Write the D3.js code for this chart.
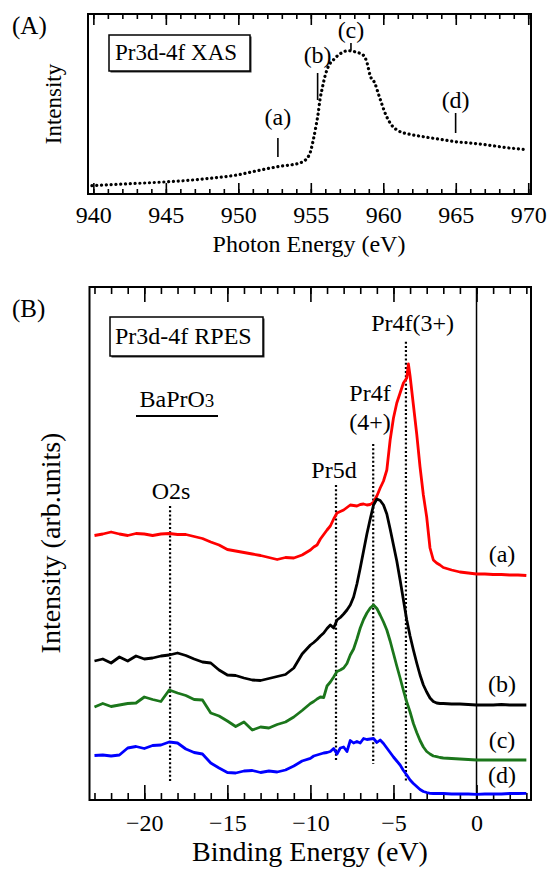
<!DOCTYPE html>
<html>
<head>
<meta charset="utf-8">
<script src="https://cdn.jsdelivr.net/npm/d3@7"></script>
<style>
  html, body { margin: 0; padding: 0; background: #fff; }
  svg { display: block; }
  text { font-family: "Liberation Serif", "Times New Roman", serif; fill: #000; }
</style>
</head>
<body>
<script>
// ---- panel A: Pr3d-4f XAS (photon energy in eV, intensity arb.)
const xasEnergy = [939.9, 941.65, 943.95, 946.25, 948.1, 949.9, 951.3, 952.7, 954.3, 954.89,
  955.17, 955.35, 955.51, 955.63, 955.79, 955.97, 956.2, 956.55, 957.0, 957.58,
  958.16, 958.61, 958.89, 959.08, 959.42, 959.65, 959.88, 960.18, 960.57, 961.03,
  961.83, 962.75, 963.9, 964.99, 966.2, 967.35, 968.5, 969.65];
const xasIntensity = [8.3, 9.7, 11.3, 13.3, 15.7, 19, 23.3, 27.3, 31.3, 39,
  54, 67.3, 80.7, 94, 105.7, 117.3, 127.3, 134, 140, 143.3,
  141.7, 139, 130.7, 119, 110.7, 100.7, 90.7, 79, 69, 63.3,
  59.7, 57.3, 54.7, 52.3, 50.7, 48.7, 46.3, 44.7];
const xasTicks = [940, 945, 950, 955, 960, 965, 970];
// photon energies used for the RPES spectra
const xasMarks = ['(a)', '(b)', '(c)', '(d)'];
const xasMarkEnergy = [952.73, 955.47, 957.77, 964.99];

// ---- panel B: Pr3d-4f RPES of BaPrO3 (binding energy in eV)
const bindingEnergy = [-23, -22.5, -22, -21.5, -21, -20.5, -20, -19.5, -19, -18.5,
  -18, -17.5, -17, -16.5, -16, -15.5, -15, -14.5, -14, -13.5,
  -13, -12.5, -12, -11.5, -11, -10.5,
  -10, -9.8, -9.6, -9.4, -9.2, -9, -8.8, -8.6, -8.4, -8.2,
  -8, -7.8, -7.6, -7.4, -7.2, -7, -6.8, -6.6, -6.4, -6.2,
  -6, -5.8, -5.6, -5.4, -5.2, -5, -4.8, -4.6, -4.4, -4.2,
  -4.1, -4, -3.8, -3.6, -3.4, -3.2, -3, -2.8, -2.6, -2.4,
  -2.2, -2, -1.5, -1, -0.5, 0, 0.5, 1, 1.5, 2, 2.5, 3];
const rpesA = [264.5, 266, 268, 266, 264.5, 266.5, 266, 264.5, 266, 266.5,
  265.5, 265.5, 263.5, 261.5, 258, 255, 250.5, 249, 247.5, 246,
  244.5, 242.5, 240.5, 242.5, 242, 245,
  250, 253, 255, 261, 265.5, 270, 274, 281, 287, 288.5,
  290, 292.5, 295, 294.5, 294, 295.5, 296, 295, 295.5, 298,
  304, 312, 319, 330, 360, 382, 397, 407, 417, 422,
  436, 424, 395, 366, 333, 305, 283, 252, 240, 237,
  235, 232.5, 230, 228, 227, 226, 226, 225.5, 225.5, 225, 225, 224.5];
const rpesB = [139, 141, 137, 143, 139, 144, 141, 142, 144, 145,
  147, 144.5, 141, 138, 137, 130, 125, 124.5, 122, 120,
  119.5, 121.5, 123.5, 125.5, 132, 146,
  155, 157.5, 160.5, 164, 167, 171.5, 175, 172, 180, 182.5,
  186, 190, 195, 203, 216, 232, 249, 266, 281, 295,
  301, 299.5, 295, 286, 271, 255, 239, 220, 200, 180,
  172, 164, 150, 137, 125, 115, 108, 102, 98.5, 97,
  96.5, 96.5, 96, 96, 95.5, 95, 95, 95, 95.5, 95, 95, 95];
const rpesC = [93, 96.5, 93.5, 95, 96.5, 97, 103, 100.5, 98.5, 110,
  107, 104.5, 100.5, 100, 87, 84, 79, 73.5, 78, 70,
  73, 72, 75.5, 78, 83, 89.5,
  96.5, 98.5, 101, 103, 102.5, 114, 118, 123, 128.5, 130,
  132, 136.5, 145, 151, 161, 172, 180.5, 187, 192, 195,
  191.5, 185, 178, 170, 159, 146.5, 134, 122, 109.5, 98,
  93, 88, 76.5, 67.5, 59.5, 53, 48.5, 46, 44, 43.3,
  42.5, 42, 41.5, 41, 40.5, 40, 40, 40, 40, 40, 40, 40];
const rpesD = [44.5, 45, 44, 45, 52, 53.5, 51.5, 54.5, 55, 58,
  57, 51, 47.5, 46, 37, 32, 27.5, 27, 29, 29.5,
  27.5, 29, 28, 30, 34, 39,
  41.7, 44, 45, 46, 47, 47.5, 48.5, 51.5, 46, 52,
  53, 48.5, 59.5, 57, 58.5, 57, 61.5, 60.5, 61, 61.5,
  57.5, 60, 56.5, 52, 47.5, 43, 39, 35, 29.5, 25,
  22.5, 20, 16.5, 13.5, 10.5, 8.5, 7.5, 6.7, 6.5, 6.5,
  6.5, 6.5, 6, 6, 6, 5.7, 6, 6, 6, 6.5, 6.5, 6.7];
const seriesNames = ['(a)', '(b)', '(c)', '(d)'];
const seriesColors = ['#ff0000', '#000000', '#1b761b', '#0000ff'];
const bTicks = [-20, -15, -10, -5, 0];

// assignment lines: energy, label lines
const peakNames = [['O2s'], ['Pr5d'], ['Pr4f', '(4+)'], ['Pr4f(3+)']];
const peakEnergy = [-18.45, -8.46, -6.22, -4.25];

const W = 547, H = 869;
const FONT = '"Liberation Serif", "Times New Roman", serif';

const svg = d3.select('body').append('svg')
  .attr('width', W).attr('height', H);
svg.append('rect').attr('width', W).attr('height', H).attr('fill', '#fff');

// helper: frame with inward major/minor ticks top & bottom
function drawFrame(g, x, box, majors, minors, majorLen, minorLen, labelPad, labelSize) {
  const bottom = g.append('g').attr('transform', 'translate(0,' + box.bottom + ')');
  bottom.call(d3.axisBottom(x).tickValues(minors).tickSizeInner(-minorLen).tickSizeOuter(0).tickFormat(''));
  bottom.append('g').call(d3.axisBottom(x).tickValues(majors).tickSizeInner(-majorLen).tickSizeOuter(0)
    .tickPadding(labelPad).tickFormat(d3.format('d')));
  const top = g.append('g').attr('transform', 'translate(0,' + box.top + ')');
  top.call(d3.axisTop(x).tickValues(minors).tickSizeInner(-minorLen).tickSizeOuter(0).tickFormat(''));
  top.append('g').call(d3.axisTop(x).tickValues(majors).tickSizeInner(-majorLen).tickSizeOuter(0).tickFormat(''));

  g.selectAll('.domain').remove();
  g.selectAll('.tick line').attr('stroke', '#000').attr('stroke-width', 1.6);
  g.selectAll('.tick text').attr('font-family', FONT).attr('font-size', labelSize).attr('fill', '#000');

  g.append('rect')
    .attr('x', box.left).attr('y', box.top)
    .attr('width', box.right - box.left).attr('height', box.bottom - box.top)
    .attr('fill', 'none').attr('stroke', '#000').attr('stroke-width', 2);
}

function titleBox(g, x0, y0, w, h, label, tx, ty, size) {
  g.append('rect').attr('x', x0 + 1.5).attr('y', y0 + 1.5).attr('width', w).attr('height', h)
    .attr('fill', '#333');
  g.append('rect').attr('x', x0).attr('y', y0).attr('width', w).attr('height', h)
    .attr('fill', '#fff').attr('stroke', '#000').attr('stroke-width', 1.5);
  g.append('text').attr('x', tx).attr('y', ty).attr('font-size', size).text(label);
}

// ================= Panel A =================
const boxA = {left: 88, right: 531, top: 14, bottom: 194};
const xA = d3.scaleLinear().domain([939.63, 970.19]).range([boxA.left, boxA.right]);
const yA = d3.scaleLinear().domain([0, 180]).range([boxA.bottom, boxA.top]);

const gA = svg.append('g');
drawFrame(gA, xA, boxA, xasTicks, d3.range(940, 971, 1), 11, 5, 12, 24);

gA.append('path')
  .datum(xasEnergy.map((e, i) => [e, xasIntensity[i]]))
  .attr('fill', 'none')
  .attr('stroke', '#000')
  .attr('stroke-width', 3.2)
  .attr('stroke-linecap', 'round')
  .attr('stroke-dasharray', '0.1,4.7')
  .attr('d', d3.line().x(d => xA(d[0])).y(d => yA(d[1])).curve(d3.curveMonotoneX));

// marker ticks + labels for the excitation energies
const markTop = [56, 121, 151, 81];
const markBot = [37, 94, 143.5, 61];
const markLabelY = [125, 63, 38, 108];
xasMarks.forEach((m, i) => {
  const xx = xA(xasMarkEnergy[i]);
  gA.append('line').attr('x1', xx).attr('x2', xx)
    .attr('y1', yA(markTop[i])).attr('y2', yA(markBot[i]))
    .attr('stroke', '#000').attr('stroke-width', 1.6);
  gA.append('text').attr('x', xx).attr('y', markLabelY[i])
    .attr('text-anchor', 'middle').attr('font-size', 24).text(m);
});

titleBox(gA, 109, 35, 141, 36, 'Pr3d-4f XAS', 115, 60, 23);

svg.append('text').attr('x', 12).attr('y', 34).attr('font-size', 25).text('(A)');
svg.append('text').attr('transform', 'translate(61,104) rotate(-90)')
  .attr('text-anchor', 'middle').attr('font-size', 23).text('Intensity');
svg.append('text').attr('x', 309).attr('y', 252).attr('text-anchor', 'middle')
  .attr('font-size', 24).text('Photon Energy (eV)');

// ================= Panel B =================
const boxB = {left: 89.5, right: 531, top: 287, bottom: 800};
const xB = d3.scaleLinear().domain([-23.3, 3.28]).range([boxB.left, boxB.right]);
const yB = d3.scaleLinear().domain([0, 513]).range([boxB.bottom, boxB.top]);

const gB = svg.append('g');
drawFrame(gB, xB, boxB, bTicks, d3.range(-23, 4, 1), 15, 7, 14, 24);

// Fermi level
gB.append('line').attr('x1', xB(0)).attr('x2', xB(0))
  .attr('y1', boxB.top).attr('y2', boxB.bottom)
  .attr('stroke', '#000').attr('stroke-width', 1.5);

// dotted assignment lines
const peakTop = [294, 315, 356, 458.3];
const peakBot = [18, 38, 36, 18];
peakEnergy.forEach((e, i) => {
  gB.append('line').attr('x1', xB(e)).attr('x2', xB(e))
    .attr('y1', yB(peakTop[i])).attr('y2', yB(peakBot[i]))
    .attr('stroke', '#000').attr('stroke-width', 2.2)
    .attr('stroke-dasharray', '2,2.2');
});

// spectra
const spectra = [rpesA, rpesB, rpesC, rpesD];
const lineB = d3.line().x(d => xB(d[0])).y(d => yB(d[1]));
spectra.forEach((s, i) => {
  gB.append('path')
    .datum(bindingEnergy.map((e, j) => [e, s[j]]))
    .attr('fill', 'none')
    .attr('stroke', seriesColors[i])
    .attr('stroke-width', 2.8)
    .attr('stroke-linejoin', 'round')
    .attr('d', lineB);
});

// series labels on the right
const seriesLabelY = [562, 692, 748, 783];
seriesNames.forEach((n, i) => {
  gB.append('text').attr('x', 502).attr('y', seriesLabelY[i])
    .attr('text-anchor', 'middle').attr('font-size', 24).text(n);
});

// peak labels
const peakLabelX = [171, 334, 370, 412.6];
const peakLabelY = [[499.3], [477.5], [401, 430], [330.7]];
peakNames.forEach((lines, i) => {
  lines.forEach((t, k) => {
    gB.append('text').attr('x', peakLabelX[i]).attr('y', peakLabelY[i][k])
      .attr('text-anchor', 'middle').attr('font-size', 24).text(t);
  });
});

titleBox(gB, 110, 317, 153, 39, 'Pr3d-4f RPES', 115, 343.5, 24);

// sample name
const sample = gB.append('text').attr('x', 139.5).attr('y', 406.7).attr('font-size', 24);
sample.append('tspan').text('BaPrO');
sample.append('tspan').attr('font-size', 19).text('3');
gB.append('line').attr('x1', 136).attr('x2', 218).attr('y1', 416).attr('y2', 416)
  .attr('stroke', '#000').attr('stroke-width', 2);

svg.append('text').attr('x', 12).attr('y', 317).attr('font-size', 25).text('(B)');
svg.append('text').attr('transform', 'translate(60,543) rotate(-90)')
  .attr('text-anchor', 'middle').attr('font-size', 28).text('Intensity (arb.units)');
svg.append('text').attr('x', 310).attr('y', 861).attr('text-anchor', 'middle')
  .attr('font-size', 28).text('Binding Energy (eV)');
</script>
</body>
</html>
